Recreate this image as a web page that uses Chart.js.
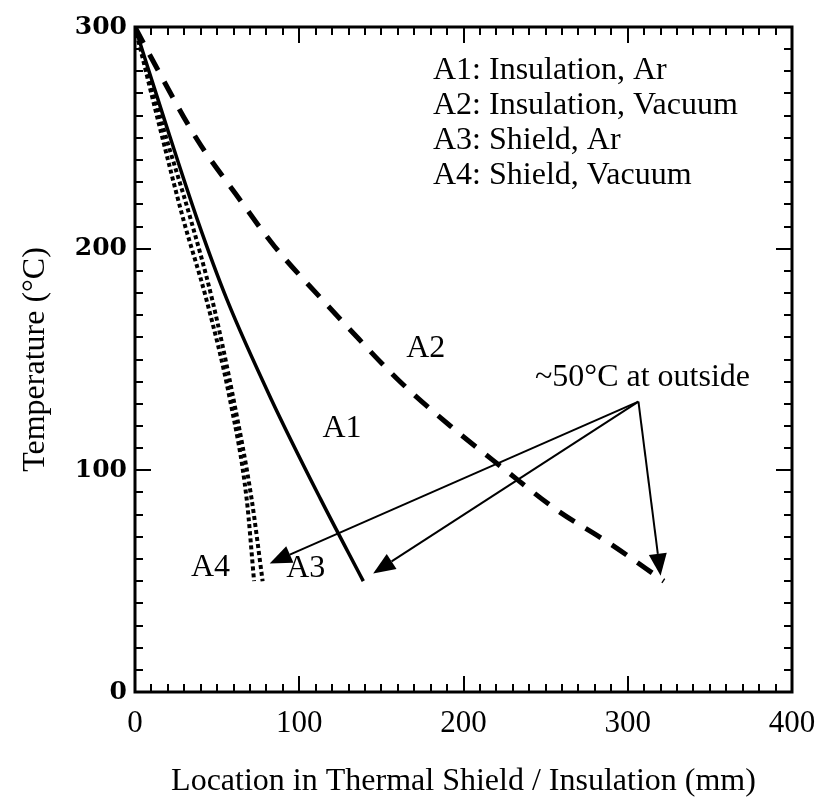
<!DOCTYPE html>
<html>
<head>
<meta charset="utf-8">
<script src="https://cdn.jsdelivr.net/npm/chart.js@4.4.1/dist/chart.umd.min.js"></script>
<style>
  html, body { margin: 0; padding: 0; background: #fff; }
  #wrap { width: 816px; height: 807px; }
</style>
</head>
<body>
<div id="wrap"><canvas id="chart" width="816" height="807"></canvas></div>
<script>
// values (mm, degC)
const a1X = [0, 18, 38, 56, 83, 113, 139];
const a1Y = [300, 258, 213, 177, 132, 87, 50];
const a2X = [0, 10, 38, 61, 85, 114, 129, 160, 192, 224, 257, 289, 322];
const a2Y = [300, 286, 249, 225, 201, 177, 165, 141, 120, 101, 82, 67, 50];
const a3X = [0, 17, 34, 47, 60, 71, 77.7];
const a3Y = [300, 255, 213, 177, 132, 87, 50];
const a4X = [0, 15, 29.5, 43.5, 57.8, 68, 72.5];
const a4Y = [300, 255, 213, 177, 132, 87, 50];

const xTicks = [0, 100, 200, 300, 400];
const yTicks = [0, 100, 200, 300];

const legendLines = ['A1: Insulation, Ar', 'A2: Insulation, Vacuum', 'A3: Shield, Ar', 'A4: Shield, Vacuum'];

// curve labels at data positions
const curveLabels = ['A1', 'A2', 'A3', 'A4'];
const curveLabelX = [126, 177, 104, 46];
const curveLabelY = [119, 155, 55.5, 56];

// arrow annotation
const noteText = '~50°C at outside';
const noteX = 309, noteY = 142;
const arrowFromX = 306.5, arrowFromY = 131;
const arrowToX = [82, 145, 320];
const arrowToY = [58, 53.5, 52.5];

const SERIF = '"Liberation Serif", "Times New Roman", serif';
const TXT = 32;

function pts(xs, ys) {
  return xs.map((x, i) => ({ x: x, y: ys[i] }));
}

const decorations = {
  id: 'decorations',
  afterDraw(chart) {
    const ctx = chart.ctx;
    const xs = chart.scales.x, ys = chart.scales.y;
    const a = chart.chartArea;
    ctx.save();
    ctx.strokeStyle = '#000';
    ctx.fillStyle = '#000';

    // inward ticks on all four sides
    ctx.lineWidth = 2;
    ctx.beginPath();
    for (let v = 0; v <= 400; v += 10) {
      const px = Math.round(xs.getPixelForValue(v));
      const len = v % 100 === 0 ? 16 : 8;
      ctx.moveTo(px, a.bottom); ctx.lineTo(px, a.bottom - len);
      ctx.moveTo(px, a.top); ctx.lineTo(px, a.top + len);
    }
    for (let v = 0; v <= 300; v += 10) {
      const py = Math.round(ys.getPixelForValue(v));
      const len = v % 100 === 0 ? 16 : 8;
      ctx.moveTo(a.left, py); ctx.lineTo(a.left + len, py);
      ctx.moveTo(a.right, py); ctx.lineTo(a.right - len, py);
    }
    ctx.stroke();

    // frame
    ctx.lineWidth = 3;
    ctx.strokeRect(a.left, a.top, a.right - a.left, a.bottom - a.top);

    // text legend
    ctx.font = TXT + 'px ' + SERIF;
    ctx.textAlign = 'left';
    ctx.textBaseline = 'middle';
    legendLines.forEach((t, i) => {
      ctx.fillText(t, a.left + 298, a.top + 44 + i * 35);
    });

    // curve labels
    ctx.textAlign = 'center';
    curveLabels.forEach((t, i) => {
      ctx.fillText(t, xs.getPixelForValue(curveLabelX[i]), ys.getPixelForValue(curveLabelY[i]));
    });
    ctx.fillText(noteText, xs.getPixelForValue(noteX), ys.getPixelForValue(noteY));

    // arrows
    const fx = xs.getPixelForValue(arrowFromX), fy = ys.getPixelForValue(arrowFromY);
    ctx.lineWidth = 2;
    arrowToX.forEach((tx, i) => {
      const px = xs.getPixelForValue(tx), py = ys.getPixelForValue(arrowToY[i]);
      const ang = Math.atan2(py - fy, px - fx);
      const head = 22, half = 9;
      const bx = px - head * Math.cos(ang), by = py - head * Math.sin(ang);
      ctx.beginPath();
      ctx.moveTo(fx, fy);
      ctx.lineTo(bx, by);
      ctx.stroke();
      ctx.beginPath();
      ctx.moveTo(px, py);
      ctx.lineTo(bx + half * Math.sin(ang), by - half * Math.cos(ang));
      ctx.lineTo(bx - half * Math.sin(ang), by + half * Math.cos(ang));
      ctx.closePath();
      ctx.fill();
    });
    ctx.restore();
  }
};

const lineBase = { pointRadius: 0, borderColor: '#000', fill: false, cubicInterpolationMode: 'monotone' };

new Chart(document.getElementById('chart'), {
  type: 'line',
  data: {
    datasets: [
      Object.assign({ label: 'A1', data: pts(a1X, a1Y), borderWidth: 3.5 }, lineBase),
      Object.assign({ label: 'A2', data: pts(a2X, a2Y), borderWidth: 5, borderDash: [18, 13] }, lineBase),
      Object.assign({ label: 'A3', data: pts(a3X, a3Y), borderWidth: 4, borderDash: [4, 3] }, lineBase),
      Object.assign({ label: 'A4', data: pts(a4X, a4Y), borderWidth: 4, borderDash: [4, 3] }, lineBase)
    ]
  },
  options: {
    responsive: false,
    animation: false,
    layout: { padding: { top: 27, right: 24, left: 0, bottom: 0 } },
    plugins: { legend: { display: false }, tooltip: { enabled: false } },
    scales: {
      x: {
        type: 'linear', min: 0, max: 400,
        afterBuildTicks: (s) => { s.ticks = xTicks.map(v => ({ value: v })); },
        afterFit: (s) => { s.height = 115; s.paddingLeft = 0; s.paddingRight = 0; },
        grid: { display: false, drawTicks: false },
        border: { display: false },
        ticks: { color: '#000', padding: 13, maxRotation: 0, font: { family: SERIF, size: 31 } },
        title: { display: true, text: 'Location in Thermal Shield / Insulation (mm)', color: '#000',
          padding: { top: 0, bottom: 6 }, font: { family: SERIF, size: 32 } }
      },
      y: {
        type: 'linear', min: 0, max: 300,
        afterBuildTicks: (s) => { s.ticks = yTicks.map(v => ({ value: v })); },
        afterFit: (s) => { s.width = 135; s.paddingTop = 0; s.paddingBottom = 0; },
        grid: { display: false, drawTicks: false },
        border: { display: false },
        ticks: { color: '#000', padding: 8, font: { family: '"DejaVu Serif", serif', size: 25, weight: 'bold' } },
        title: { display: true, text: 'Temperature (°C)', color: '#000',
          padding: { top: 16, bottom: 0 }, font: { family: SERIF, size: 32 } }
      }
    }
  },
  plugins: [decorations]
});
</script>
</body>
</html>
